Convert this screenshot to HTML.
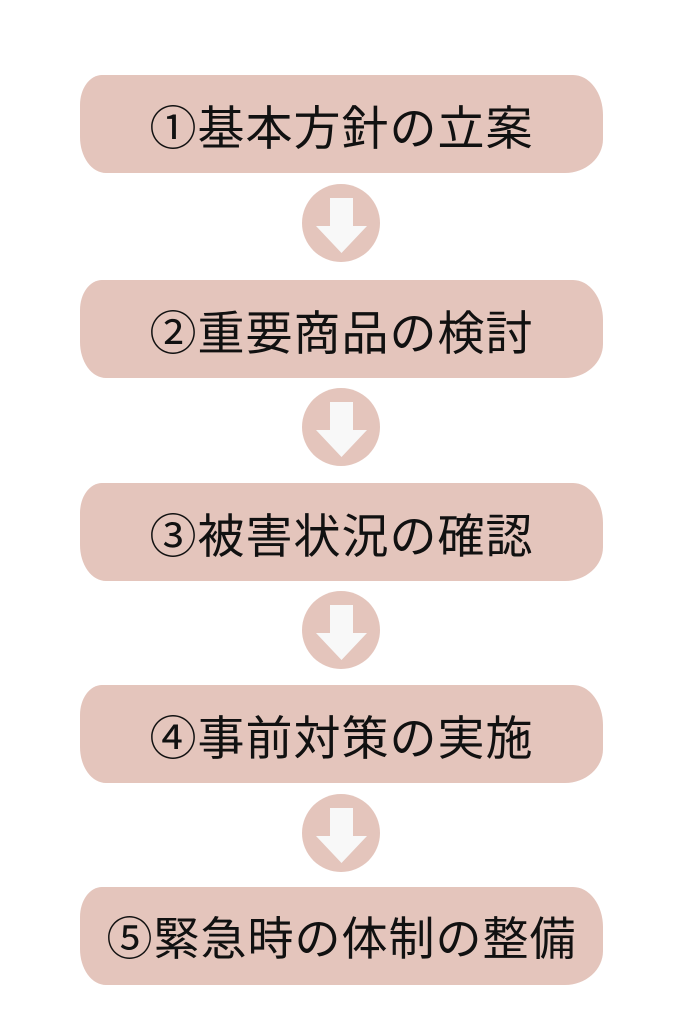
<!DOCTYPE html>
<html><head><meta charset="utf-8"><style>
body{margin:0;width:683px;height:1024px;background:#fff;position:relative;overflow:hidden;font-family:"Liberation Sans","Noto Sans CJK JP",sans-serif}
.b{position:absolute;left:80px;width:523px;height:98px;background:#e4c5bc;border-radius:22px 30px 38px 26px/30px 40px 34px 36px;display:flex;align-items:center;justify-content:center;font-size:47px;color:#111;letter-spacing:1px;white-space:nowrap}
.c{position:absolute;left:302px;width:78px;height:78px}
</style></head><body>
<div class="b" style="top:75px">①基本方針の立案</div>
<div class="b" style="top:280px">②重要商品の検討</div>
<div class="b" style="top:483px">③被害状況の確認</div>
<div class="b" style="top:685px">④事前対策の実施</div>
<div class="b" style="top:887px;font-size:46px">⑤緊急時の体制の整備</div>
<svg class="c" style="top:184px" viewBox="0 0 78 78"><circle cx="39" cy="39" r="39" fill="#e4c5bc"/><path d="M28 14H51V42H65L39.5 69L14 42H28Z" fill="#f8f8f8"/></svg>
<svg class="c" style="top:388px" viewBox="0 0 78 78"><circle cx="39" cy="39" r="39" fill="#e4c5bc"/><path d="M28 14H51V42H65L39.5 69L14 42H28Z" fill="#f8f8f8"/></svg>
<svg class="c" style="top:591px" viewBox="0 0 78 78"><circle cx="39" cy="39" r="39" fill="#e4c5bc"/><path d="M28 14H51V42H65L39.5 69L14 42H28Z" fill="#f8f8f8"/></svg>
<svg class="c" style="top:794px" viewBox="0 0 78 78"><circle cx="39" cy="39" r="39" fill="#e4c5bc"/><path d="M28 14H51V42H65L39.5 69L14 42H28Z" fill="#f8f8f8"/></svg>
</body></html>
